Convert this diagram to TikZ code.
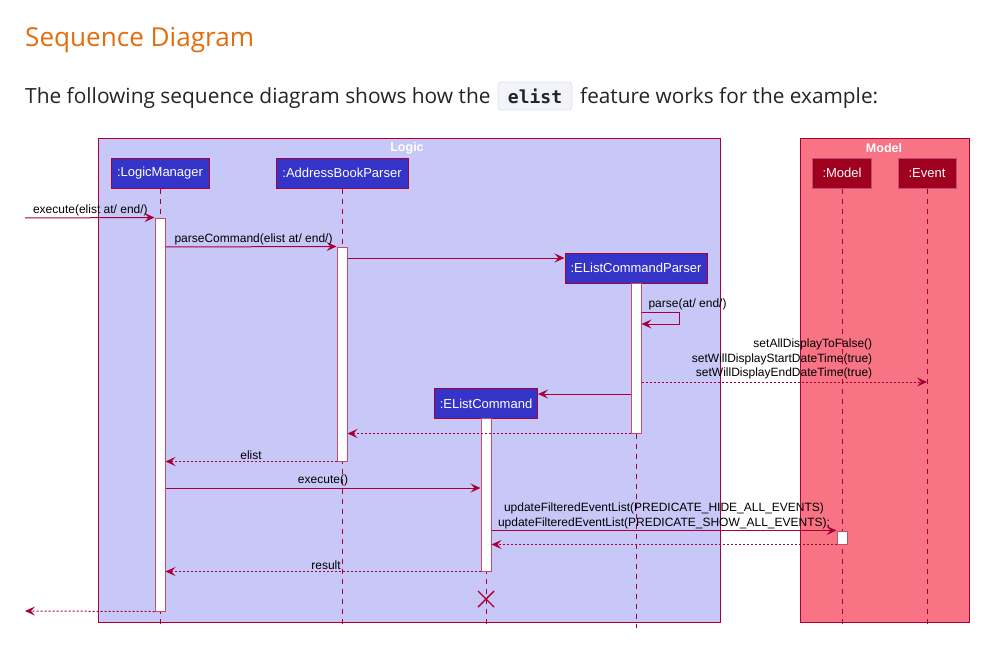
\documentclass[tikz,border=0pt]{standalone}
\usepackage{fontspec}
\setmainfont{Liberation Sans}
\newfontfamily\pagefont{Open Sans}
\newfontfamily\codefont{DejaVu Sans Mono}
\usepackage{xcolor}
\usetikzlibrary{arrows.meta,positioning,calc}
\definecolor{sdcrimson}{RGB}{168,0,54}
\definecolor{sdlogic}{RGB}{200,200,248}
\definecolor{sdmodel}{RGB}{248,116,132}
\definecolor{sdblue}{RGB}{52,52,200}
\definecolor{sddarkred}{RGB}{158,0,30}
\definecolor{sdheading}{RGB}{228,108,10}
\definecolor{sdbody}{RGB}{33,37,41}
\definecolor{sdcodebg}{RGB}{243,243,250}
\definecolor{sdcodeline}{RGB}{226,226,236}
\tikzset{
  sdframe/.style={draw=sdcrimson, line width=1pt},
  sdframetitle/.style={font=\fontsize{12.5}{14}\selectfont\bfseries, text=white, inner sep=0pt},
  sdpart/.style={
    rectangle, draw=sdcrimson, fill=sdblue, line width=1pt, text=white,
    minimum height=30pt, inner sep=0pt, font=\fontsize{13}{15}\selectfont
  },
  sdmodelpart/.style={sdpart, fill=sddarkred, draw=sdcrimson!70!white},
  sdlifeline/.style={draw=sdcrimson, line width=1pt, dash pattern=on 5pt off 5pt},
  sdact/.style={rectangle, draw=sdcrimson!70!white, fill=white, line width=1pt,
    minimum width=10pt, inner sep=0pt},
  sdcall/.style={-{Stealth[length=10pt,width=9pt,inset=4pt]}, draw=sdcrimson, line width=1pt},
  sdreturn/.style={sdcall, dash pattern=on 2pt off 2pt},
  sdlabel/.style={font=\fontsize{12}{14.4}\selectfont, text=black, inner sep=1.5pt},
  sddestroy/.style={draw=sdcrimson, line width=1.4pt}
}
\begin{document}
\begin{tikzpicture}[x=1pt,y=-1pt]
  \useasboundingbox[fill=white] (0,0) rectangle (1000,658);
  % page text
  \node[anchor=base west, inner sep=0pt, text=sdheading,
    font=\pagefont\fontsize{26.1}{31}\selectfont] (heading) at (25,47) {Sequence Diagram};
  \node[anchor=base west, inner sep=0pt, text=sdbody,
    font=\pagefont\fontsize{20.9}{25}\selectfont] (intro) at (25,103) {The following sequence diagram shows how the};
  \node[draw=sdcodeline, fill=sdcodebg, rounded corners=3pt, line width=0.8pt,
    minimum width=74pt, minimum height=28pt, inner sep=0pt, text=sdbody,
    font=\codefont\bfseries\fontsize{18}{20}\selectfont] (code) at (535,96) {elist};
  \node[anchor=base west, inner sep=0pt, text=sdbody,
    font=\pagefont\fontsize{20.8}{25}\selectfont] (introend) at (580,103) {feature works for the example:};
  % boxes
  \draw[sdframe, fill=sdlogic] (98,138) rectangle (720,622);
  \draw[sdframe, fill=sdmodel] (800,138) rectangle (969,622);
  \node[sdframetitle] (logictitle) at (407,148) {Logic};
  \node[sdframetitle] (modeltitle) at (884,148) {Model};
  % participants
  \node[sdpart, minimum width=98pt] (lm) at (160,173) {:LogicManager};
  \node[sdpart, minimum width=132pt] (abp) at (342,173) {:AddressBookParser};
  \node[sdpart, minimum width=142pt] (elcp) at (636,268) {:EListCommandParser};
  \node[sdpart, minimum width=103pt] (elc) at (486,403.5) {:EListCommand};
  \node[sdmodelpart, minimum width=59pt] (md) at (842,173) {:Model};
  \node[sdmodelpart, minimum width=58pt] (ev) at (927,173) {:Event};
  \coordinate (bot) at (0,628);
  \foreach \p in {lm,abp,elcp,elc,md,ev}
    \draw[sdlifeline] (\p.south) -- (\p.south |- bot);
  % activations
  \node[sdact, minimum height=393pt] (lmact) at (160,414.5) {};
  \node[sdact, minimum height=214pt] (abpact) at (342,354) {};
  \node[sdact, minimum height=150pt] (elcpact) at (636,358) {};
  \node[sdact, minimum height=153pt] (elcact) at (486,494.5) {};
  \node[sdact, minimum height=13pt] (mdact) at (842,537.5) {};
  % messages
  \coordinate (entry) at (25,218);
  \coordinate (exit) at (25,611);
  \draw[sdcall] (entry) -- node[sdlabel, pos=0, anchor=south west, xshift=6pt] {execute(elist at/ end/)} (lmact.north west);
  \draw[sdcall] (lmact.east |- 0,247) -- node[sdlabel, pos=0, anchor=south west, xshift=7pt] {parseCommand(elist at/ end/)} (abpact.north west);
  \draw[sdcall] (abpact.east |- 0,258) -- (elcp.west |- 0,258);
  \draw[sdcall] (elcpact.east |- 0,312) -- node[sdlabel, pos=0, anchor=south west, xshift=5pt] {parse(at/ end/)} ++(38,0) -- ++(0,12) -- (elcpact.east |- 0,324);
  \draw[sdreturn] (elcpact.east |- 0,382) -- node[sdlabel, pos=0.815, anchor=south east, align=right, yshift=1pt] {setAllDisplayToFalse()\\setWillDisplayStartDateTime(true)\\setWillDisplayEndDateTime(true)} (ev.south |- 0,382);
  \draw[sdcall] (elcpact.west |- 0,394) -- (elc.east |- 0,394);
  \draw[sdreturn] (elcpact.south west) -- (abpact.east |- elcpact.south);
  \draw[sdreturn] (abpact.south west) -- node[sdlabel, above] {elist} (lmact.east |- abpact.south);
  \draw[sdcall] (lmact.east |- 0,488) -- node[sdlabel, above] {execute()} (elcact.west |- 0,488);
  \draw[sdcall] (elcact.east |- mdact.north) -- node[sdlabel, above, align=center] {updateFilteredEventList(PREDICATE\_HIDE\_ALL\_EVENTS)\\updateFilteredEventList(PREDICATE\_SHOW\_ALL\_EVENTS);} (mdact.north west);
  \draw[sdreturn] (mdact.south west) -- (elcact.east |- mdact.south);
  \draw[sdreturn] (elcact.south west) -- node[sdlabel, above, xshift=3pt] {result} (lmact.east |- elcact.south);
  \draw[sdreturn] (lmact.south west) -- (exit);
  % destroy
  \coordinate (kill) at (486,599);
  \draw[sddestroy] ($(kill)+(-8,-8)$) -- ($(kill)+(8,8)$);
  \draw[sddestroy] ($(kill)+(-8,8)$) -- ($(kill)+(8,-8)$);
\end{tikzpicture}
\end{document}
